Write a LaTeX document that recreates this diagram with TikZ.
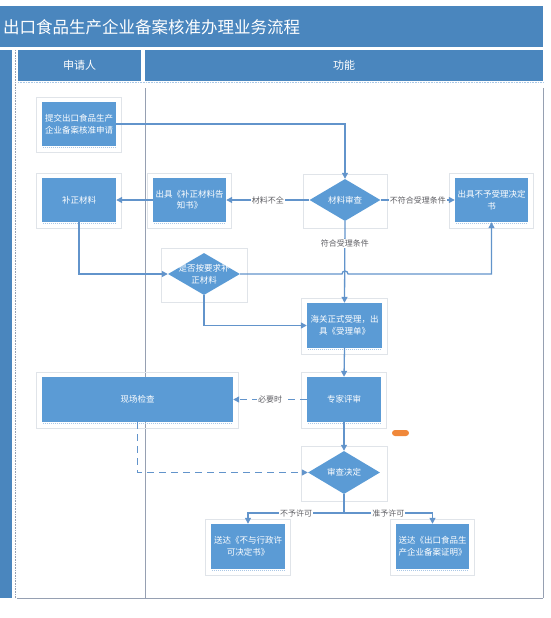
\documentclass[tikz,border=0pt]{standalone}
\usepackage{fontspec}
\setmainfont{Noto Sans CJK SC}
\usetikzlibrary{shapes.geometric,calc,arrows.meta}
\definecolor{titleblue}{RGB}{74,134,190}
\definecolor{boxblue}{RGB}{91,155,213}
\definecolor{linecol}{RGB}{98,148,203}
\definecolor{framegray}{RGB}{224,228,233}
\definecolor{lanegray}{RGB}{150,160,178}
\definecolor{lblgray}{RGB}{95,95,100}
\definecolor{shadowblue}{RGB}{170,200,230}
\definecolor{pillorange}{RGB}{240,136,58}
\begin{document}
\begin{tikzpicture}[x=1pt,y=-1pt,
  box/.style={rectangle, fill=boxblue, text=white, font=\fontsize{8.5}{11.5}\selectfont, align=center, inner sep=0pt, minimum width=74pt, minimum height=44pt},
  dia/.style={diamond, fill=boxblue, inner sep=0pt, minimum width=72pt, minimum height=42pt},
  dtext/.style={text=white, font=\fontsize{8.5}{11.5}\selectfont, align=center, inner sep=0pt},
  lbl/.style={fill=white, text=lblgray, font=\fontsize{8}{9}\selectfont, inner sep=1pt},
  arr/.style={draw=linecol, line width=1.3pt, -{Triangle[length=6pt,width=6pt]}},
  plain/.style={draw=linecol, line width=1.3pt},
  frame/.style={draw=framegray, line width=0.7pt},
  head/.style={text=white, font=\fontsize{11}{13}\selectfont},
  pill/.style={fill=pillorange, rounded corners=3pt, minimum width=17pt, minimum height=6pt, inner sep=0pt}]
\useasboundingbox (0,0) rectangle (550,618);
% title and headers
\fill[titleblue] (0,6) rectangle (543,47);
\node[text=white, font=\fontsize{16.5}{18}\selectfont, anchor=west, inner sep=0pt] (title) at (3,27) {出口食品生产企业备案核准办理业务流程};
\fill[titleblue] (0,50) rectangle (12,598);
\fill[titleblue] (18,50) rectangle (141,81);
\fill[titleblue] (145,50) rectangle (543,81);
\node[head] (h1) at (79.5,65.5) {申请人};
\node[head] (h2) at (344,65.5) {功能};
% lanes
\draw[lanegray, densely dotted, line width=0.6pt] (15,50) -- (15,598);
\draw[shadowblue, densely dotted, line width=0.6pt] (18,82) -- (543,82);
\draw[lanegray, line width=1pt] (145,88) -- (145,598);
\draw[lanegray, line width=0.8pt] (543,88) -- (543,598);
\draw[lanegray, line width=0.8pt] (17,598) -- (543,598);
% nodes
\node[box] (submit) at (79,124) {提交出口食品生产\\企业备案核准申请};
\node[box] (supp) at (79,200) {补正材料};
\node[box, minimum width=73pt] (notice) at (189.5,200) {出具《补正材料告\\知书》};
\node[dia, minimum width=71pt, label={[dtext]center:材料审查}] (review) at (345,200) {};
\node[box, minimum width=73pt] (reject) at (491.5,200) {出具不予受理决定\\书};
\node[dia, label={[dtext]center:是否按要求补\\正材料}] (check) at (204,274) {};
\node[box, minimum width=75pt, minimum height=45pt] (accept) at (344.5,325.5) {海关正式受理，出\\具《受理单》};
\node[box, minimum height=45pt] (expert) at (344,399.5) {专家评审};
\node[box, minimum width=191pt, minimum height=45pt] (site) at (137.5,399.5) {现场检查};
\node[dia, minimum height=43pt, label={[dtext]center:审查决定}] (decide) at (344,472.5) {};
\node[box, minimum height=45pt] (refuse) at (248,546.5) {送达《不与行政许\\可决定书》};
\node[box, minimum width=73pt, minimum height=45pt] (grant) at (432.5,546.5) {送达《出口食品生\\产企业备案证明》};
\node[pill] (pill) at (400.5,433) {};
% frames
\foreach \n in {submit,supp,notice,reject,accept,expert,site,refuse,grant}{
  \draw[frame] ($(\n.north west)+(-5,-4)$) rectangle ($(\n.south east)+(5,6)$);
  \draw[shadowblue, densely dotted, line width=1pt] ($(\n.south west)+(1,1.5)$) -- ($(\n.south east)+(-1,1.5)$);
}
\foreach \n in {review,check,decide}{
  \draw[frame] ($(\n.west|-\n.north)+(-6,-4)$) rectangle ($(\n.east|-\n.south)+(7,7)$);
}
% connectors
\draw[arr] (submit.east) -| (review.north);
\draw[arr] (review.west) -- node[lbl]{材料不全} (notice.east);
\draw[arr] (notice.west) -- (supp.east);
\draw[arr] (review.east) -- node[lbl]{不符合受理条件} (reject.west);
\draw[arr] (review.south) -- node[lbl, pos=0.27]{符合受理条件} (accept.north);
\draw[arr] (supp.south) |- (check.west);
\draw[arr] (check.east) -- ($(review.south|-check.east)+(-3,0)$) arc[start angle=180, end angle=360, radius=3] -| (reject.south);
\draw[arr] (check.south) |- (accept.west);
\draw[arr] (accept.south) -- (expert.north);
\draw[arr, dashed, dash pattern=on 7pt off 5pt] (expert.west) -- node[lbl]{必要时} (site.east);
\draw[arr] (expert.south) -- (decide.north);
\draw[arr, dashed, dash pattern=on 7pt off 5pt] (site.south) |- (decide.west);
\coordinate (split) at (344,513);
\draw[plain] (decide.south) -- (split);
\draw[arr] (split) -- node[lbl]{不予许可} (split-|refuse.north) -- (refuse.north);
\draw[arr] (split) -- node[lbl]{准予许可} (split-|grant.north) -- (grant.north);
\end{tikzpicture}
\end{document}
